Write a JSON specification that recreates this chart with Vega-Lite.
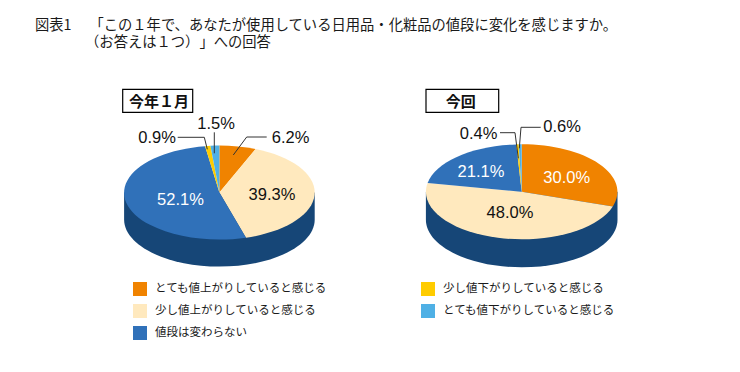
{
"$schema":"https://vega.github.io/schema/vega-lite/v6.json",
"width":740,"height":372,"padding":0,"autosize":{"type":"none"},
"background":"#ffffff",
"config":{"view":{"stroke":null}},
"title":{"text":["図表1　\u2005「この１年で、あなたが使用している日用品・化粧品の値段に変化を感じますか。","\u200B　　　\u2002（お答えは１つ）\u200B」への回答"],"anchor":"start","frame":"group","orient":"top","offset":0,"dx":35,"dy":50,"font":"Noto Sans CJK JP","fontSize":14.3,"fontWeight":"normal","lineHeight":17,"color":"#1a1a1a"},
"data":{"values":[
{"panel":"今年１月","id":"a1","label":"とても値上がりしていると感じる","share":6.2},
{"panel":"今年１月","id":"a2","label":"少し値上がりしていると感じる","share":39.3},
{"panel":"今年１月","id":"a3","label":"値段は変わらない","share":52.1},
{"panel":"今年１月","id":"a4","label":"少し値下がりしていると感じる","share":0.9},
{"panel":"今年１月","id":"a5","label":"とても値下がりしていると感じる","share":1.5},
{"panel":"今回","id":"b1","label":"とても値上がりしていると感じる","share":30.0},
{"panel":"今回","id":"b2","label":"少し値上がりしていると感じる","share":48.0},
{"panel":"今回","id":"b3","label":"値段は変わらない","share":21.1},
{"panel":"今回","id":"b4","label":"少し値下がりしていると感じる","share":0.4},
{"panel":"今回","id":"b5","label":"とても値下がりしていると感じる","share":0.6}
]},
"transform":[
{"calculate":"datum.panel==='今回'?521.7:219.4","as":"cx"},
{"calculate":"datum.panel==='今回'?191.8:192.6","as":"cy"},
{"calculate":"datum.panel==='今回'?426:122.7","as":"bx"},
{"calculate":"datum.panel==='今回'?498.7:192.7","as":"bx2"},
{"calculate":"89.3","as":"by"},
{"calculate":"112.3","as":"by2"},
{"calculate":"format(datum.share,'.1f')+'%'","as":"txt"},
{"calculate":"{a1:290.5,a2:272,a3:180.5,a4:157,a5:216,b1:566.7,b2:510,b3:481,b4:478.5,b5:562}[datum.id]","as":"lx"},
{"calculate":"{a1:143,a2:200,a3:205,a4:142.7,a5:129.3,b1:182.7,b2:217.7,b3:177,b4:139,b5:131.7}[datum.id]","as":"ly"},
{"calculate":"{a1:266.7,a4:177.7,a5:214.3,b4:500,b5:540.7}[datum.id]","as":"r1x"},
{"calculate":"{a1:137,a4:137.3,a5:132.3,b4:132.7,b5:127.3}[datum.id]","as":"r1y"},
{"calculate":"{a1:246.7,a4:204.3,a5:214.3,b4:515,b5:521}[datum.id]","as":"r2x"},
{"calculate":"{a1:137,a4:137.3,a5:132.3,b4:132.7,b5:127.3}[datum.id]","as":"r2y"},
{"calculate":"{a1:233.3,a4:207.3,a5:214.3,b4:518.3,b5:519.3}[datum.id]","as":"r3x"},
{"calculate":"{a1:155,a4:149.3,a5:153.3,b4:158.3,b5:148.3}[datum.id]","as":"r3y"}
],
"encoding":{
"x":{"field":"cx","type":"quantitative","axis":null,"scale":{"domain":[0,740],"range":[0,740],"nice":false,"zero":false}},
"y":{"field":"cy","type":"quantitative","axis":null,"scale":{"domain":[0,372],"range":[0,372],"nice":false,"zero":false}}
},
"resolve":{"scale":{"shape":"independent"}},
"layer":[
{"transform":[{"aggregate":[{"op":"min","field":"cx","as":"cx"},{"op":"min","field":"cy","as":"cy"}],"groupby":["panel"]}],
 "mark":{"type":"point","filled":true,"size":4,"opacity":1,"strokeWidth":0,"fill":"#164677"},
 "encoding":{"shape":{"field":"panel","type":"nominal","legend":null,"scale":{"domain":["今年１月","今回"],"range":[
 "M-95.3,0L-95.3,27A95.3,47 0 0 0 95.3,27L95.3,0Z",
 "M-95.8,0L-95.8,28A95.8,47.5 0 0 0 95.8,28L95.8,0Z"]}}}},
{"mark":{"type":"point","filled":true,"size":4,"opacity":1,"strokeWidth":0},
 "encoding":{
 "fill":{"field":"label","type":"nominal","scale":{"domain":["とても値上がりしていると感じる","少し値上がりしていると感じる","値段は変わらない","少し値下がりしていると感じる","とても値下がりしていると感じる"],"range":["#F08300","#FFE9BE","#3071B9","#FFCC00","#4FB0E5"]},
  "legend":{"title":null,"orient":"none","legendX":133,"legendY":282,"direction":"vertical","columns":2,"columnPadding":93,"rowPadding":8,"gridAlign":"each","symbolType":"square","symbolSize":196,"symbolStrokeWidth":0,"symbolOpacity":1,"labelFont":"Noto Sans CJK JP","labelFontSize":11.5,"labelColor":"#1a1a1a","labelOffset":8,"labelLimit":200}},
 "shape":{"field":"id","type":"nominal","legend":null,"scale":{"domain":["a1","a2","a3","a4","a5","b1","b2","b3","b4","b5"],"range":[
 "M0,0L0,-47A95.3,47 0 0 1 36.2,-43.48Z",
 "M0,0L36.2,-43.48A95.3,47 0 0 1 26.59,45.13Z",
 "M0,0L26.59,45.13A95.3,47 0 1 1 -14.31,-46.47Z",
 "M0,0L-14.31,-46.47A95.3,47 0 0 1 -8.97,-46.79Z",
 "M0,0L-8.97,-46.79A95.3,47 0 0 1 0,-47Z",
 "M0,0L0,-47.5A95.8,47.5 0 0 1 91.11,14.68Z",
 "M0,0L91.11,14.68A95.8,47.5 0 0 1 -94.1,-8.9Z",
 "M0,0L-94.1,-8.9A95.8,47.5 0 0 1 -5.41,-47.42Z",
 "M0,0L-5.41,-47.42A95.8,47.5 0 0 1 -3.01,-47.48Z",
 "M0,0L-3.01,-47.48A95.8,47.5 0 0 1 0,-47.5Z"]}}
 }},
{"transform":[{"filter":"datum.r1x!=null"}],
 "mark":{"type":"rule","strokeWidth":1,"color":"#333333"},
 "encoding":{"x":{"field":"r1x","type":"quantitative"},"y":{"field":"r1y","type":"quantitative"},"x2":{"field":"r2x"},"y2":{"field":"r2y"}}},
{"transform":[{"filter":"datum.r1x!=null"}],
 "mark":{"type":"rule","strokeWidth":1,"color":"#333333"},
 "encoding":{"x":{"field":"r2x","type":"quantitative"},"y":{"field":"r2y","type":"quantitative"},"x2":{"field":"r3x"},"y2":{"field":"r3y"}}},
{"mark":{"type":"text","font":"Liberation Sans","fontSize":16.5,"align":"center","baseline":"alphabetic"},
 "encoding":{"x":{"field":"lx","type":"quantitative"},"y":{"field":"ly","type":"quantitative"},"text":{"field":"txt"},
 "color":{"condition":{"test":"indexof(['a3','b1','b3'],datum.id)>=0","value":"#ffffff"},"value":"#111111"}}},
{"transform":[{"aggregate":[{"op":"min","field":"bx","as":"bx"},{"op":"min","field":"bx2","as":"bx2"},{"op":"min","field":"by","as":"by"},{"op":"min","field":"by2","as":"by2"}],"groupby":["panel"]}],
 "mark":{"type":"rect","fill":"#ffffff","stroke":"#000000","strokeWidth":1.2},
 "encoding":{"x":{"field":"bx","type":"quantitative"},"x2":{"field":"bx2"},"y":{"field":"by","type":"quantitative"},"y2":{"field":"by2"}}},
{"transform":[{"aggregate":[{"op":"min","field":"bx","as":"bx"},{"op":"min","field":"bx2","as":"bx2"},{"op":"min","field":"by","as":"by"}],"groupby":["panel"]},{"calculate":"(datum.panel==='今回'?460.7:159)","as":"tx"},{"calculate":"106.5","as":"ty"}],
 "mark":{"type":"text","font":"Noto Sans CJK JP","fontSize":15,"fontWeight":"bold","align":"center","baseline":"alphabetic","color":"#111111"},
 "encoding":{"x":{"field":"tx","type":"quantitative"},"y":{"field":"ty","type":"quantitative"},"text":{"field":"panel"}}}
]
}
